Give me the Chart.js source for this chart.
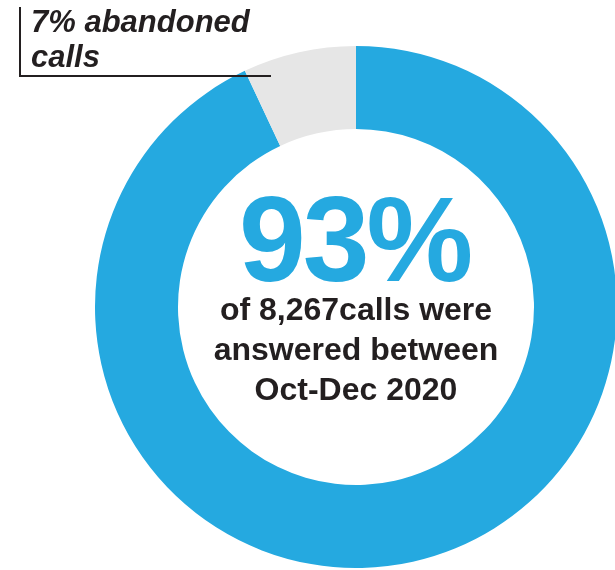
<!DOCTYPE html>
<html>
<head>
<meta charset="utf-8">
<script src="https://cdn.jsdelivr.net/npm/chart.js@4/dist/chart.umd.min.js"></script>
<style>
  html, body { margin: 0; padding: 0; background: #fff; overflow: hidden; }
  body { width: 615px; height: 570px; position: relative; font-family: "Liberation Sans", Arial, Helvetica, sans-serif; color: #231f20; }
  #ring { position: absolute; left: 95px; top: 46px; width: 522px; height: 522px; }
  .callout {
    position: absolute; left: 19px; top: 7px; width: 250px; height: 68px;
    border-left: 2px solid #231f20; border-bottom: 2px solid #231f20;
  }
  .callout-text {
    position: absolute; left: 31px; top: 4px;
    font-size: 31px; line-height: 35px; font-weight: bold; font-style: italic;
    white-space: nowrap;
  }
  .big {
    position: absolute; left: 0; top: 179px; width: 712px; text-align: center;
    font-size: 120px; line-height: 120px; font-weight: bold; color: #25a9e0;
    letter-spacing: -3px; white-space: nowrap;
  }
  .big span { padding-right: 3px; }
  .sub {
    position: absolute; left: 0; top: 289px; width: 712px; text-align: center;
    font-size: 32px; line-height: 40px; font-weight: bold; white-space: nowrap;
  }
</style>
</head>
<body>
<div id="ring"><canvas id="donut" width="522" height="522"></canvas></div>
<div class="callout"></div>
<div class="callout-text">7% abandoned<br>calls</div>
<div class="big"><span>93%</span></div>
<div class="sub">of 8,267calls were<br>answered between<br>Oct-Dec 2020</div>
<script>
const labels = ['Answered', 'Abandoned'];
const shares = [93, 7];
const colours = ['#25a9e0', '#e6e6e6'];

new Chart(document.getElementById('donut').getContext('2d'), {
  type: 'doughnut',
  data: {
    labels: labels,
    datasets: [{
      data: shares,
      backgroundColor: colours,
      borderWidth: 0
    }]
  },
  options: {
    responsive: false,
    animation: false,
    devicePixelRatio: 1,
    cutout: '68.2%',
    plugins: {
      legend: { display: false },
      tooltip: { enabled: false }
    }
  }
});
</script>
</body>
</html>
